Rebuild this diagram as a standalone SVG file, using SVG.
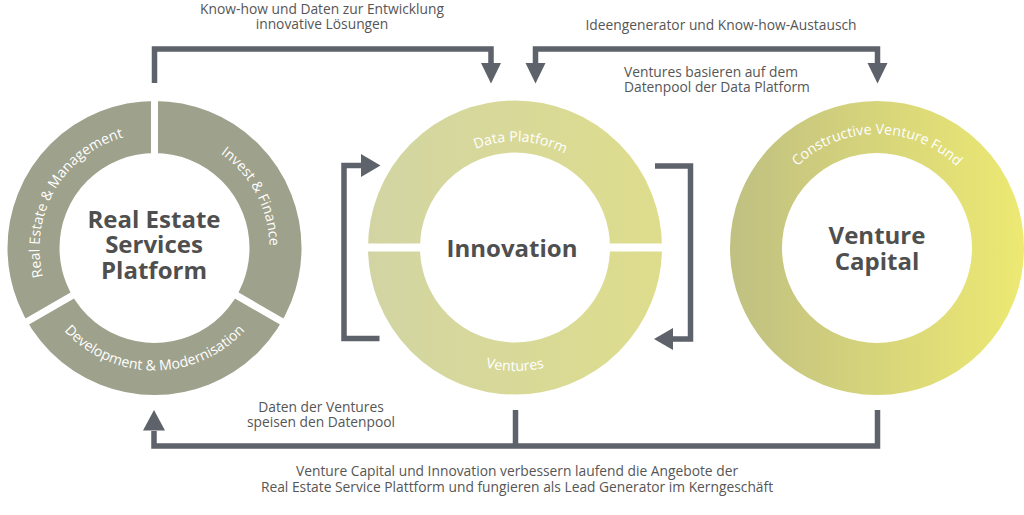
<svg xmlns="http://www.w3.org/2000/svg" xmlns:xlink="http://www.w3.org/1999/xlink" width="1024" height="515" viewBox="0 0 1024 515">
  <defs>
    <linearGradient id="gInno" gradientUnits="userSpaceOnUse" x1="368" y1="0" x2="662" y2="0">
      <stop offset="0" stop-color="#d2d5a3"/>
      <stop offset="1" stop-color="#dedd8d"/>
    </linearGradient>
    <linearGradient id="gVC" gradientUnits="userSpaceOnUse" x1="730" y1="0" x2="1024" y2="0">
      <stop offset="0" stop-color="#c0c082"/>
      <stop offset="1" stop-color="#ede973"/>
    </linearGradient>
    <path id="pREM" d="M 66.41 321.92 A 115 115 0 0 1 174.47 134.75"/>
    <path id="pIF" d="M 138.5 134.12 A 115 115 0 0 1 239.96 324.95"/>
    <path id="pDM" d="M 39.39 289.9 A 122.5 122.5 0 0 0 269.61 289.9"/>
    <path id="pDP" d="M 417.43 206.08 A 106 106 0 0 1 616.37 216.51"/>
    <path id="pV" d="M 398.95 289.74 A 123.5 123.5 0 0 0 631.05 289.74"/>
    <path id="pCVF" d="M 769.88 209.01 A 114 114 0 0 1 984.12 209.01"/>
  </defs>
  <style>
    .lbl { font-family: "Open Sans", "Noto Sans", "Liberation Sans", sans-serif; font-size: 13.8px; fill: #565656; }
    .arc { font-family: "Open Sans", "Noto Sans", "Liberation Sans", sans-serif; font-size: 14.2px; fill: #ffffff; }
    .big { font-family: "Open Sans", "Noto Sans", "Liberation Sans", sans-serif; font-size: 24px; font-weight: bold; fill: #4f4f4f; text-anchor: middle; }
    .conn { fill: none; stroke: #5e626a; stroke-width: 5.5; stroke-linejoin: miter; stroke-linecap: butt; }
    .head { fill: #5e626a; }
    .gap { stroke: #ffffff; stroke-width: 7; }
  </style>
  <rect width="1024" height="515" fill="#ffffff"/>

  <g id="node-real-estate">
    <circle cx="154.5" cy="248" r="121" fill="none" stroke="#9ea18b" stroke-width="52"/>
    <line class="gap" x1="154.5" y1="248" x2="154.5" y2="95"/>
    <line class="gap" x1="154.5" y1="248" x2="286.5" y2="324.2"/>
    <line class="gap" x1="154.5" y1="248" x2="22.5" y2="324.2"/>
    <text class="arc" text-anchor="middle"><textPath xlink:href="#pREM" href="#pREM" startOffset="50%">Real Estate &amp; Management</textPath></text>
    <text class="arc" text-anchor="middle"><textPath xlink:href="#pIF" href="#pIF" startOffset="50%">Invest &amp; Finance</textPath></text>
    <text class="arc" text-anchor="middle"><textPath xlink:href="#pDM" href="#pDM" startOffset="50%">Development &amp; Modernisation</textPath></text>
    <text class="big" x="154" y="227.5">Real Estate</text>
    <text class="big" x="154" y="253">Services</text>
    <text class="big" x="154" y="278.5">Platform</text>
  </g>

  <g id="node-innovation">
    <circle cx="515" cy="247.5" r="121" fill="none" stroke="url(#gInno)" stroke-width="52"/>
    <rect x="360" y="243.5" width="310" height="8" fill="#ffffff"/>
    <text class="arc" text-anchor="middle"><textPath xlink:href="#pDP" href="#pDP" startOffset="50%">Data Platform</textPath></text>
    <text class="arc" text-anchor="middle"><textPath xlink:href="#pV" href="#pV" startOffset="50%">Ventures</textPath></text>
    <text class="big" x="512" y="256.5">Innovation</text>
  </g>

  <g id="node-venture-capital">
    <circle cx="877" cy="248" r="121" fill="none" stroke="url(#gVC)" stroke-width="52"/>
    <text class="arc" text-anchor="middle"><textPath xlink:href="#pCVF" href="#pCVF" startOffset="50%">Constructive Venture Fund</textPath></text>
    <text class="big" x="877" y="243.5">Venture</text>
    <text class="big" x="877" y="269.5">Capital</text>
  </g>

  <g id="connectors">
    <path class="conn" d="M 154.5 83 V 49 H 491 V 64"/>
    <polygon class="head" points="481,63 501,63 491,83.5"/>
    <path class="conn" d="M 535.5 64 V 49 H 877.5 V 64"/>
    <polygon class="head" points="525.5,63 545.5,63 535.5,83.5"/>
    <polygon class="head" points="867.5,63 887.5,63 877.5,83.5"/>
    <path class="conn" d="M 154 431 V 446 H 877.5 V 410"/>
    <path class="conn" d="M 515.5 410 V 446"/>
    <polygon class="head" points="143,430.5 165,430.5 154,410"/>
    <path class="conn" d="M 379.5 338.5 H 344 V 165.5 H 362"/>
    <polygon class="head" points="361,154 380.5,165.5 361,177"/>
    <path class="conn" d="M 655 166 H 690.5 V 339 H 672"/>
    <polygon class="head" points="673,328 654,339 673,350"/>
  </g>

  <g id="labels">
    <text class="lbl" x="322" y="14" text-anchor="middle">Know-how und Daten zur Entwicklung</text>
    <text class="lbl" x="322" y="28.5" text-anchor="middle">innovative Lösungen</text>
    <text class="lbl" x="721" y="30" text-anchor="middle">Ideengenerator und Know-how-Austausch</text>
    <text class="lbl" x="624" y="77">Ventures basieren auf dem</text>
    <text class="lbl" x="624" y="92">Datenpool der Data Platform</text>
    <text class="lbl" x="321" y="411.5" text-anchor="middle">Daten der Ventures</text>
    <text class="lbl" x="321" y="426.5" text-anchor="middle">speisen den Datenpool</text>
    <text class="lbl" x="517" y="476" text-anchor="middle">Venture Capital und Innovation verbessern laufend die Angebote der</text>
    <text class="lbl" x="517" y="491.5" text-anchor="middle">Real Estate Service Plattform und fungieren als Lead Generator im Kerngeschäft</text>
  </g>
</svg>
